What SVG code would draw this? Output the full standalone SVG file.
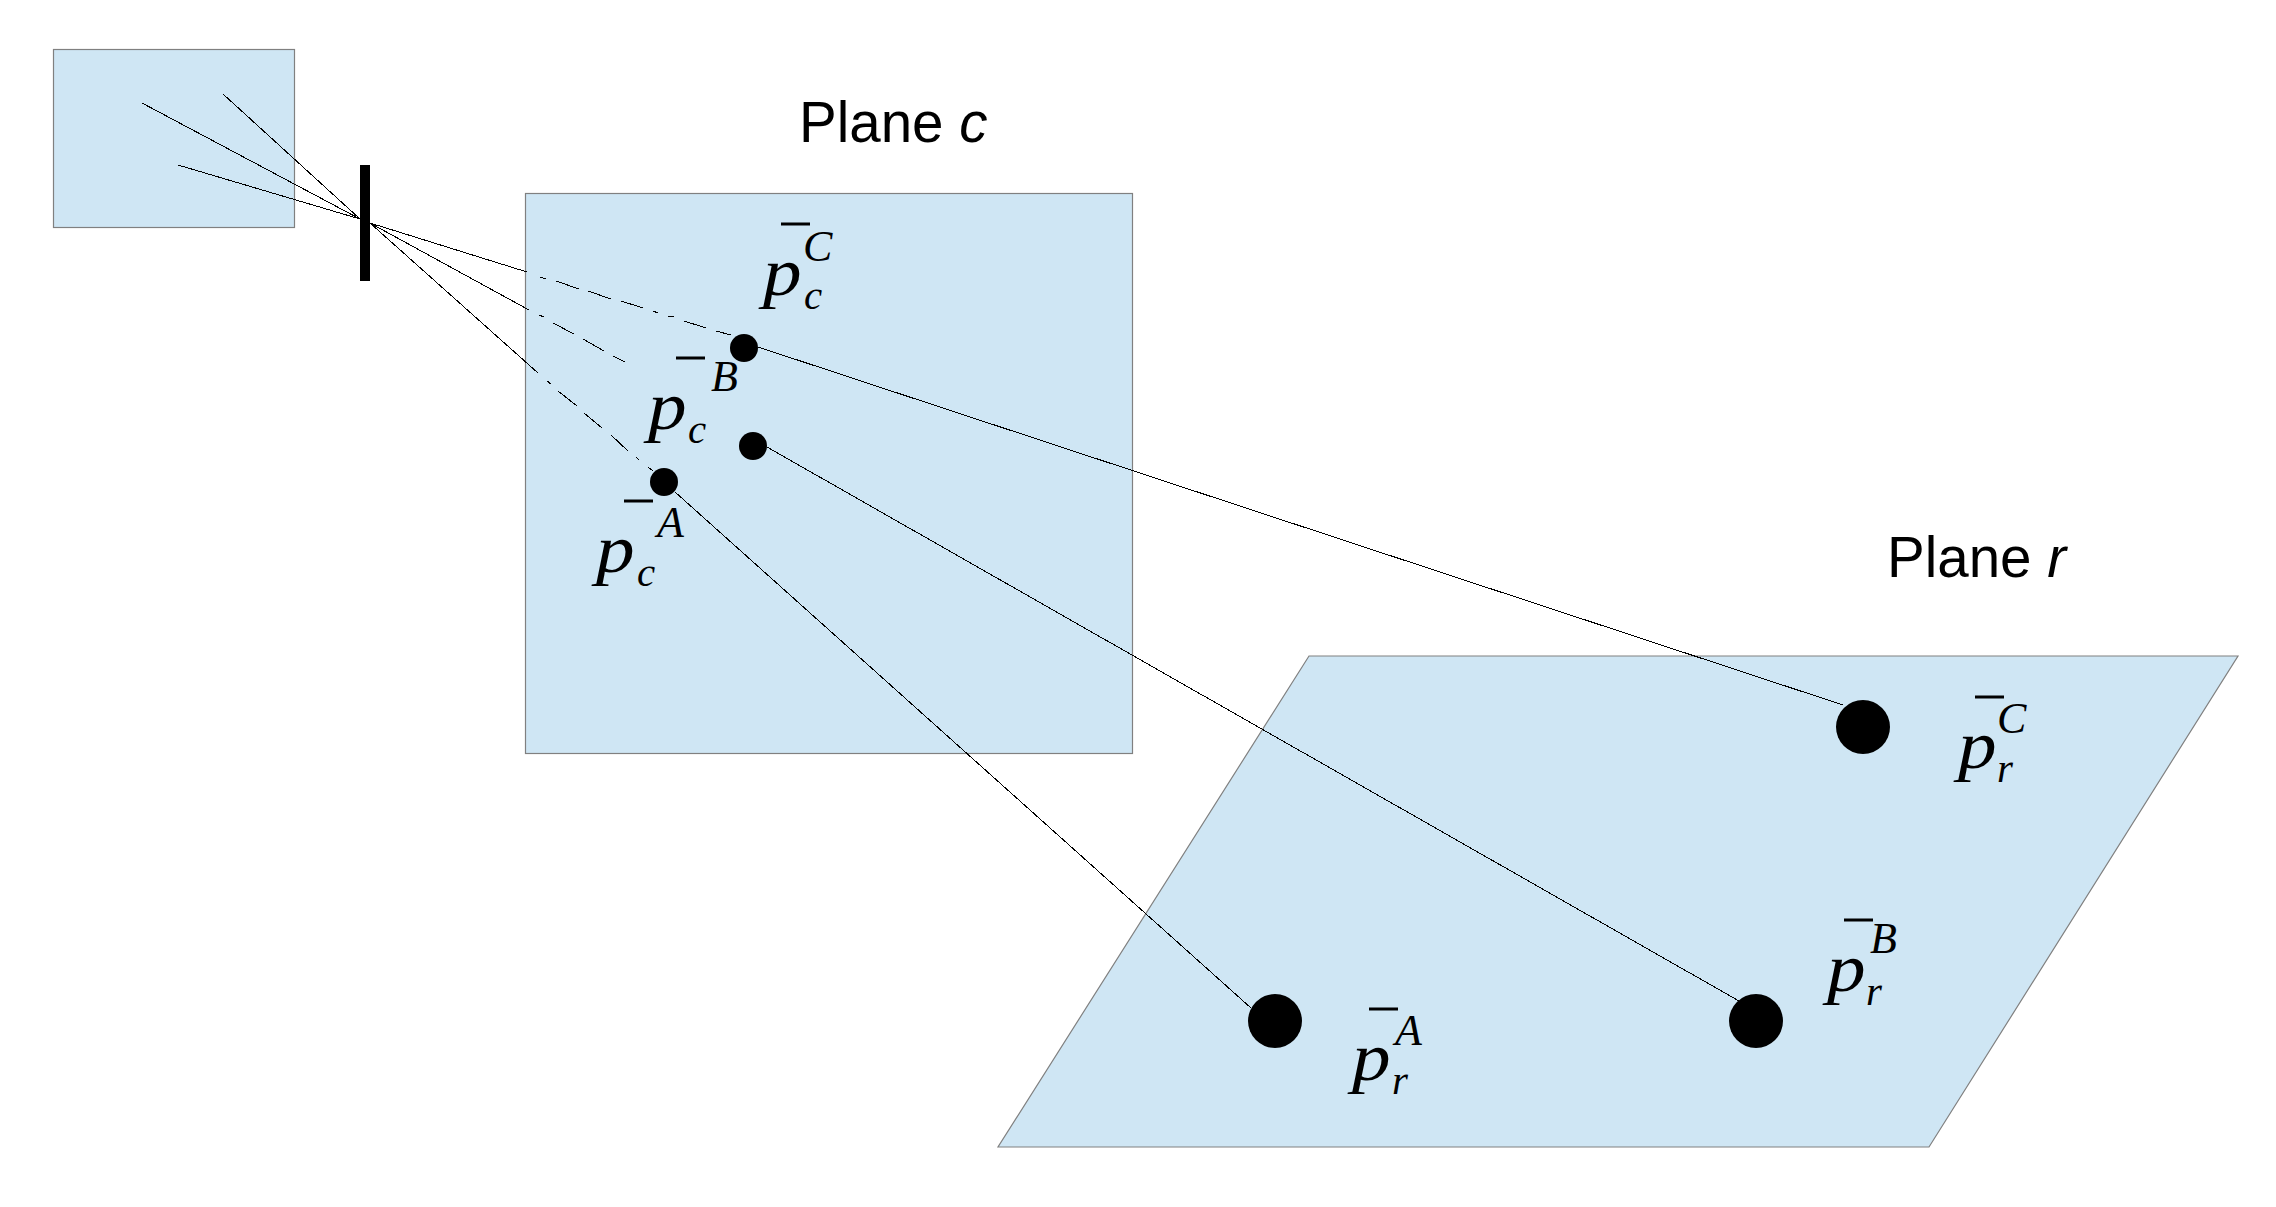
<svg xmlns="http://www.w3.org/2000/svg" width="2276" height="1207" viewBox="0 0 2276 1207">
<style>
.plane{fill:#cfe6f4;stroke:#808080;stroke-width:1.2}
.ray{fill:none;stroke:#000;stroke-width:1;shape-rendering:crispEdges}
.dot{fill:#000}
.bar{fill:#000}
.lbl{font-family:"Liberation Sans",Arial,sans-serif;font-size:56.500px;fill:#000}
.lbl tspan{font-style:italic}
.m{font-family:"Liberation Serif","Times New Roman",serif;font-style:italic;fill:#000}
.p{font-size:68px}
.s{font-size:41px}
.u{font-size:44px}
</style>
<rect width="2276" height="1207" fill="#fff"/>
<g id="camera-box"><rect class="plane" x="53.500" y="49.500" width="241" height="178"/></g>
<g id="plane-c"><rect class="plane" x="525.500" y="193.500" width="607" height="560"/></g>
<g id="plane-r"><polygon class="plane" points="1309,656 2238,656 1929,1147 998,1147"/></g>
<g id="plane-c-label"><text class="lbl" x="799" y="142">Plane <tspan>c</tspan></text></g>
<g id="plane-r-label"><text class="lbl" x="1887" y="577">Plane <tspan>r</tspan></text></g>
<g id="connectors">
<path class="ray" d="M223 94L360 219M142 103L360 219M178 165L360 219"/>
<path class="ray" d="M370 223L527 272M540 277L546 279M556 281L579 289M588 291L611 299M621 301L643 308M653 311L658 313M668 316L674 317M684 321L706 328M716 331L731 335M758 347L1843 705"/>
<path class="ray" d="M370 223L529 310M539 315L544 317M553 323L574 334M583 339L604 351M613 356L625 362M767 447L1739 1001"/>
<path class="ray" d="M370 223L538 373M547 381L551 384M558 391L577 406M584 413L602 428M611 435L628 451M636 457L639 460M648 467L653 471M675 492L1251 1008"/>
</g>
<g id="pinhole"><rect class="bar" x="360" y="165" width="10" height="116"/></g>
<g id="pc-a-dot"><circle class="dot" cx="664" cy="482" r="14"/></g>
<g id="pc-b-dot"><circle class="dot" cx="753" cy="446" r="14"/></g>
<g id="pc-c-dot"><circle class="dot" cx="744" cy="348" r="14"/></g>
<g id="pr-a-dot"><circle class="dot" cx="1275" cy="1021" r="27"/></g>
<g id="pr-b-dot"><circle class="dot" cx="1756" cy="1021" r="27"/></g>
<g id="pr-c-dot"><circle class="dot" cx="1863" cy="727" r="27"/></g>
<g id="label-pc-c"><rect class="bar" x="781" y="222.500" width="29" height="3"/><text class="m p" x="763" y="295" textLength="38.600" lengthAdjust="spacingAndGlyphs">p</text><text class="m s" x="804" y="309">c</text><text class="m u" x="803" y="261">C</text></g>
<g id="label-pc-b"><rect class="bar" x="676" y="356.500" width="29" height="3"/><text class="m p" x="648" y="429" textLength="38.600" lengthAdjust="spacingAndGlyphs">p</text><text class="m s" x="688" y="443">c</text><text class="m u" x="711" y="391">B</text></g>
<g id="label-pc-a"><rect class="bar" x="624" y="499.500" width="29" height="3"/><text class="m p" x="596" y="572" textLength="38.600" lengthAdjust="spacingAndGlyphs">p</text><text class="m s" x="637" y="586">c</text><text class="m u" x="657" y="537">A</text></g>
<g id="label-pr-c"><rect class="bar" x="1975" y="695.500" width="29" height="3"/><text class="m p" x="1958" y="768" textLength="38.600" lengthAdjust="spacingAndGlyphs">p</text><text class="m s" x="1997" y="782">r</text><text class="m u" x="1997" y="733">C</text></g>
<g id="label-pr-b"><rect class="bar" x="1844" y="918.500" width="29" height="3"/><text class="m p" x="1827" y="991" textLength="38.600" lengthAdjust="spacingAndGlyphs">p</text><text class="m s" x="1866" y="1005">r</text><text class="m u" x="1870" y="953">B</text></g>
<g id="label-pr-a"><rect class="bar" x="1369" y="1007.500" width="29" height="3"/><text class="m p" x="1352" y="1080" textLength="38.600" lengthAdjust="spacingAndGlyphs">p</text><text class="m s" x="1392" y="1094">r</text><text class="m u" x="1395" y="1045">A</text></g>
</svg>
